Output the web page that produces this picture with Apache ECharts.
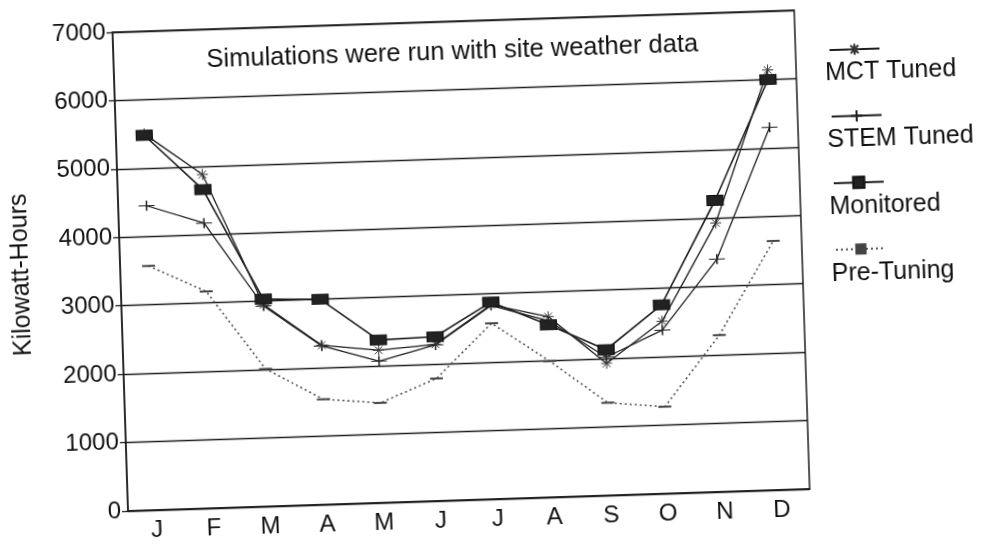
<!DOCTYPE html>
<html>
<head>
<meta charset="utf-8">
<script src="https://cdn.jsdelivr.net/npm/echarts@6/dist/echarts.min.js"></script>
<style>
  html, body { margin: 0; padding: 0; background: #fff; overflow: hidden; }
  /* the scan is tilted a little, so the whole chart is turned round the plot's lower left corner */
  #chart { width: 1010px; height: 545px; transform-origin: 128px 511px; transform: rotate(-1.85deg); }
</style>
</head>
<body>
<div id="chart"></div>
<script>
// months on the x axis
const months = ['J', 'F', 'M', 'A', 'M', 'J', 'J', 'A', 'S', 'O', 'N', 'D'];
// monthly kWh
const mctTuned  = [5500, 4880, 2950, 2330, 2230, 2290, 2840, 2640, 1930, 2520, 3930, 6140];
const stemTuned = [4450, 4170, 2930, 2320, 2070, 2280, 2830, 2580, 2020, 2390, 3400, 5300];
const monitored = [5480, 4660, 3030, 3000, 2380, 2400, 2880, 2520, 2130, 2760, 4260, 6000];
const preTuning = [3570, 3170, 2010, 1540, 1460, 1790, 2570, 1990, 1355, 1270, 2290, 3640];
const seriesNames = ['MCT Tuned', 'STEM Tuned', 'Monitored', 'Pre-Tuning'];

const ink = '#1e1e1e';
const font = 'Liberation Sans, Arial, Helvetica, sans-serif';

const chart = echarts.init(document.getElementById('chart'), null, { renderer: 'canvas' });

const option = {
  animation: false,
  backgroundColor: '#fff',
  grid: {
    left: 128, top: 32, width: 682, height: 479,
    show: true, borderColor: ink, borderWidth: 1.5, backgroundColor: 'transparent'
  },
  xAxis: {
    type: 'category',
    data: months,
    boundaryGap: true,
    axisLine: { lineStyle: { color: ink, width: 1.5 } },
    axisTick: { alignWithLabel: true, length: 6, lineStyle: { color: ink, width: 1.3 } },
    axisLabel: { color: '#111', fontFamily: font, fontSize: 24, margin: 8 }
  },
  yAxis: {
    type: 'value',
    min: 0, max: 7000, interval: 1000,
    name: 'Kilowatt-Hours',
    nameLocation: 'middle',
    nameGap: 86,
    nameTextStyle: { color: '#111', fontFamily: font, fontSize: 25 },
    axisLine: { show: true, lineStyle: { color: ink, width: 1.5 } },
    axisTick: { show: true, length: 6, lineStyle: { color: ink, width: 1.3 } },
    axisLabel: { color: '#111', fontFamily: font, fontSize: 24, margin: 7, formatter: v => String(v) },
    splitLine: { lineStyle: { color: ink, width: 1.3 } }
  },
  legend: {
    orient: 'vertical',
    left: 838, top: 61,
    itemWidth: 50, itemHeight: 14, itemGap: 53,
    selectedMode: false,
    data: seriesNames,
    formatter: () => '',
    textStyle: { fontSize: 1 }
  },
  graphic: [
    {
      type: 'text', x: 467, y: 63,
      style: {
        text: 'Simulations were run with site weather data',
        font: '25.5px ' + font, fill: '#111', textAlign: 'center', textVerticalAlign: 'middle'
      }
    }
  ].concat(seriesNames.map((n, i) => ({
    type: 'text', x: 839, y: 96 + 67 * i,
    style: { text: n, font: '25px ' + font, fill: '#111', textAlign: 'left', textVerticalAlign: 'middle' }
  }))),
  series: [
    {
      name: 'MCT Tuned', type: 'line', data: mctTuned, z: 4,
      symbol: 'path://M0,5L10,5M5,0L5,10M1.5,1.5L8.5,8.5M8.5,1.5L1.5,8.5',
      symbolSize: 11,
      itemStyle: { color: 'transparent', borderColor: '#333', borderWidth: 1 },
      lineStyle: { color: ink, width: 1.3 }
    },
    {
      name: 'STEM Tuned', type: 'line', data: stemTuned, z: 3,
      symbol: 'path://M0,5L16,5M8,0L8,10',
      symbolSize: [16, 10],
      itemStyle: { color: 'transparent', borderColor: ink, borderWidth: 1.2 },
      lineStyle: { color: ink, width: 1.3 }
    },
    {
      name: 'Monitored', type: 'line', data: monitored, z: 5,
      symbol: 'rect', symbolSize: [16, 10],
      itemStyle: { color: '#222', borderColor: '#111', borderWidth: 1 },
      lineStyle: { color: ink, width: 1.6 }
    },
    {
      name: 'Pre-Tuning', type: 'line', data: preTuning, z: 2,
      symbol: 'rect', symbolSize: [13, 2],
      itemStyle: { color: '#444' },
      lineStyle: { color: '#555', width: 1.6, type: [2, 3] }
    }
  ]
};

chart.setOption(option);
</script>
</body>
</html>
